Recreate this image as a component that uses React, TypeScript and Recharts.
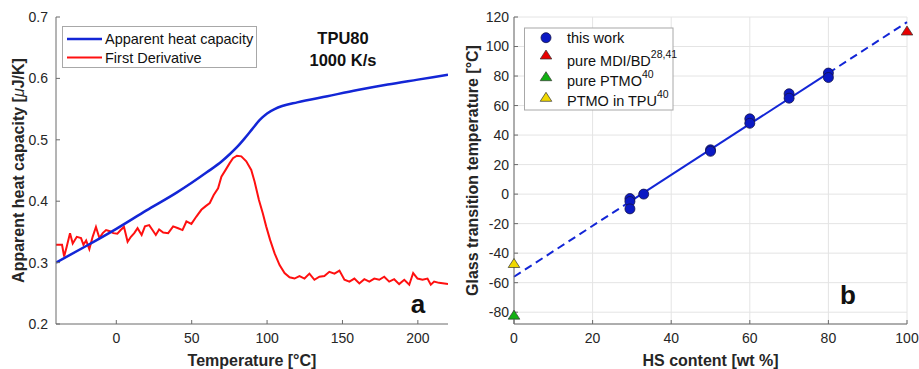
import React from 'react'
import {
  LineChart, Line, ComposedChart, Scatter, XAxis, YAxis, CartesianGrid, Label,
} from 'recharts'

// panel a: apparent heat capacity (smooth) and its first derivative (noisy)
const cpTemps = [-40, -20, 0, 20, 40, 50, 60, 70, 75, 80, 85, 90, 95, 100, 105, 110, 120, 140, 160, 180, 200, 220]
const cpValues = [0.300, 0.327, 0.355, 0.385, 0.414, 0.430, 0.447, 0.465, 0.476, 0.488, 0.502, 0.517, 0.532, 0.543, 0.550, 0.555, 0.561, 0.571, 0.581, 0.590, 0.598, 0.606]

const derivTemps = [
  -40, -36, -34.6, -32.9, -30.7, -28.9, -26.2, -23.4, -21.8, -20,
  -17.9, -15.7, -13.5, -11.2, -9, -6.8, -4.2, -2, 0.7, 2.9,
  5.1, 7.5, 9.7, 11.9, 14.1, 16.8, 19, 21.8, 24, 26.2,
  28.4, 31.1, 34.4, 37.7, 41, 43.9, 46.5, 49.8, 53.1, 56.4,
  59.3, 62, 64.6, 67.5, 69.7, 72.5, 75.2, 77.4, 80, 82.9,
  86.2, 89.5, 91.7, 94.6, 97.2, 99.4, 102, 105, 108.3, 111.6,
  114.9, 118.2, 121.5, 124.8, 128.1, 131.4, 134.7, 138, 141.3, 144.7,
  148, 151.3, 154.6, 157.9, 161.2, 164.5, 167.8, 171.1, 174.4, 177.7,
  181, 184.3, 187.6, 191, 194.3, 196.9, 199.8, 203.1, 206.4, 208.6,
  210.8, 214.1, 220,
]
const derivValues = [
  0.329, 0.329, 0.31, 0.326, 0.348, 0.331, 0.342, 0.34, 0.329, 0.336,
  0.322, 0.342, 0.358, 0.340, 0.348, 0.353, 0.351, 0.348, 0.347, 0.353,
  0.358, 0.334, 0.342, 0.348, 0.356, 0.345, 0.359, 0.361, 0.353, 0.345,
  0.354, 0.349, 0.348, 0.359, 0.356, 0.353, 0.367, 0.363, 0.375, 0.386,
  0.392, 0.397, 0.410, 0.421, 0.440, 0.451, 0.462, 0.470, 0.474, 0.473,
  0.465, 0.451, 0.432, 0.402, 0.380, 0.359, 0.337, 0.315, 0.296, 0.283,
  0.276, 0.274, 0.278, 0.274, 0.282, 0.272, 0.277, 0.278, 0.285, 0.282,
  0.287, 0.272, 0.269, 0.274, 0.266, 0.273, 0.269, 0.274, 0.272, 0.277,
  0.269, 0.273, 0.265, 0.272, 0.264, 0.283, 0.274, 0.272, 0.274, 0.264,
  0.269, 0.267, 0.265,
]
const tempTicks = [0, 50, 100, 150, 200]
const cpTicks = [0.2, 0.3, 0.4, 0.5, 0.6, 0.7]

// panel b: glass transition temperature vs hard segment content
const workX = [29.5, 29.5, 29.5, 33, 50, 50, 60, 60, 70, 70, 80, 80]
const workY = [-3, -5, -10, 0, 30, 29, 51, 48, 68, 65, 82, 79]
const mdiX = [100]
const mdiY = [110.5]
const ptmoX = [0]
const ptmoY = [-82]
const ptmoTpuX = [0]
const ptmoTpuY = [-47]
const fitSolidX = [29.5, 80]
const fitSolidY = [-5.1, 82]
const fitLowX = [0, 29.5]
const fitLowY = [-56, -5.1]
const fitHighX = [80, 100]
const fitHighY = [82, 116.5]
const hsTicks = [0, 20, 40, 60, 80, 100]
const tgTicks = [-80, -60, -40, -20, 0, 20, 40, 60, 80, 100, 120]

const pts = (xs: number[], ys: number[]) => xs.map((x, i) => ({ x, y: ys[i] }))

const font = '"Liberation Sans", Arial, sans-serif'
const axisColor = '#6b6b6b'
const tickStyle = { fill: '#262626', fontSize: 14, fontFamily: font }
const BLUE = '#1326d6'

const xTitle = (text: string) => (props: any) => {
  const { x, y, width } = props.viewBox
  return (
    <text x={x + width / 2} y={y + 36} textAnchor="middle" dominantBaseline="central"
      fontFamily={font} fontSize={16} fontWeight="bold" fill="#262626">{text}</text>
  )
}

const yTitle = (cx: number, content: React.ReactNode) => (props: any) => {
  const { y, height } = props.viewBox
  const cy = y + height / 2
  return (
    <text x={cx} y={cy} textAnchor="middle" dominantBaseline="central"
      transform={`rotate(-90, ${cx}, ${cy})`}
      fontFamily={font} fontSize={16} fontWeight="bold" fill="#262626">{content}</text>
  )
}

const triPoints = (cx: number, cy: number) =>
  `${cx},${cy - 5} ${cx + 5.8},${cy + 4} ${cx - 5.8},${cy + 4}`

const dotShape = (p: any) => (
  <circle cx={p.cx} cy={p.cy} r={5} fill="#0b19c4" stroke="#14144a" strokeWidth={0.8} />
)
const triShape = (color: string) => (p: any) => (
  <polygon points={triPoints(p.cx, p.cy)} fill={color} stroke="#333" strokeWidth={0.7} />
)

function PanelA() {
  return (
    <LineChart width={460} height={369} margin={{ top: 17, right: 12, bottom: 0, left: 0 }}>
      <XAxis xAxisId="b" type="number" dataKey="t" domain={[-40, 220]} ticks={tempTicks}
        height={45} tick={tickStyle} tickSize={-4} tickMargin={13} stroke={axisColor} allowDataOverflow>
        <Label content={xTitle('Temperature [°C]')} />
      </XAxis>
      <XAxis xAxisId="top" orientation="top" type="number" domain={[-40, 220]} ticks={tempTicks}
        height={0} tick={false} tickSize={-4} stroke={axisColor} allowDataOverflow />
      <YAxis yAxisId="l" type="number" domain={[0.2, 0.7]} ticks={cpTicks} width={56}
        tick={tickStyle} tickFormatter={(v: number) => v.toFixed(1)} tickSize={-4} tickMargin={12}
        stroke={axisColor} allowDataOverflow>
        <Label content={yTitle(18, <>Apparent heat capacity [<tspan fontStyle="italic" fontWeight="normal">μ</tspan>J/K]</>)} />
      </YAxis>
      <YAxis yAxisId="r" orientation="right" type="number" domain={[0.2, 0.7]} ticks={cpTicks}
        width={0} tick={false} tickSize={-4} stroke={axisColor} allowDataOverflow />
      <Line xAxisId="b" yAxisId="l" data={derivTemps.map((t, i) => ({ t, v: derivValues[i] }))}
        dataKey="v" type="linear" stroke="#ff1010" strokeWidth={2} dot={false} isAnimationActive={false} />
      <Line xAxisId="b" yAxisId="l" data={cpTemps.map((t, i) => ({ t, v: cpValues[i] }))}
        dataKey="v" type="monotone" stroke={BLUE} strokeWidth={2.5} dot={false} isAnimationActive={false} />
    </LineChart>
  )
}

function PanelB() {
  return (
    <ComposedChart width={459} height={369} margin={{ top: 17, right: 12, bottom: 0, left: 0 }}>
      <CartesianGrid stroke="#e4e4e4" />
      <XAxis type="number" dataKey="x" domain={[0, 100]} ticks={hsTicks} height={45}
        tick={tickStyle} tickSize={-4} tickMargin={13} stroke={axisColor}>
        <Label content={xTitle('HS content [wt %]')} />
      </XAxis>
      <YAxis type="number" dataKey="y" domain={[-88, 120]} ticks={tgTicks} width={54}
        tick={tickStyle} tickSize={-4} tickMargin={9} stroke={axisColor} allowDataOverflow>
        <Label content={yTitle(12, 'Glass transition temperature [°C]')} />
      </YAxis>
      <Line data={pts(fitLowX, fitLowY)} dataKey="y" stroke={BLUE} strokeWidth={2}
        strokeDasharray="8 5" dot={false} isAnimationActive={false} />
      <Line data={pts(fitHighX, fitHighY)} dataKey="y" stroke={BLUE} strokeWidth={2}
        strokeDasharray="8 5" dot={false} isAnimationActive={false} />
      <Line data={pts(fitSolidX, fitSolidY)} dataKey="y" stroke={BLUE} strokeWidth={2}
        dot={false} isAnimationActive={false} />
      <Scatter data={pts(workX, workY)} shape={dotShape} isAnimationActive={false} />
      <Scatter data={pts(mdiX, mdiY)} shape={triShape('#e80000')} isAnimationActive={false} />
      <Scatter data={pts(ptmoX, ptmoY)} shape={triShape('#12b012')} isAnimationActive={false} />
      <Scatter data={pts(ptmoTpuX, ptmoTpuY)} shape={triShape('#f0d800')} isAnimationActive={false} />
    </ComposedChart>
  )
}

function Overlay() {
  const txt = { fontFamily: font, fontSize: 14.5, fill: '#111' }
  return (
    <svg width={919} height={369} style={{ position: 'absolute', left: 0, top: 0, pointerEvents: 'none' }}>
      {/* legend a */}
      <rect x={62.5} y={26.5} width={194} height={41} fill="#fff" stroke="#a8a8a8" />
      <line x1={67} x2={102} y1={39} y2={39} stroke={BLUE} strokeWidth={2.5} />
      <text x={105} y={39} dominantBaseline="central" {...txt}>Apparent heat capacity</text>
      <line x1={67} x2={102} y1={57.5} y2={57.5} stroke="#ff1010" strokeWidth={2} />
      <text x={105} y={57.5} dominantBaseline="central" {...txt}>First Derivative</text>
      <text x={343} y={38} textAnchor="middle" dominantBaseline="central" fontFamily={font}
        fontSize={16.5} fontWeight="bold" fill="#111">TPU80</text>
      <text x={343} y={60} textAnchor="middle" dominantBaseline="central" fontFamily={font}
        fontSize={16.5} fontWeight="bold" fill="#111">1000 K/s</text>
      <text x={418} y={313} textAnchor="middle" fontFamily={font} fontSize={26} fontWeight="bold" fill="#111">a</text>

      {/* legend b */}
      <rect x={524.5} y={28} width={148.5} height={82} fill="#fff" stroke="#a8a8a8" />
      <circle cx={546} cy={37.7} r={5} fill="#0b19c4" stroke="#14144a" strokeWidth={0.8} />
      <text x={567} y={38.3} dominantBaseline="central" {...txt}>this work</text>
      <polygon points={triPoints(546, 55)} fill="#e80000" stroke="#333" strokeWidth={0.7} />
      <text x={567} y={61} dominantBaseline="central" {...txt}>pure MDI/BD<tspan fontSize={10.5} dy={-7}>28,41</tspan></text>
      <polygon points={triPoints(546, 76.7)} fill="#12b012" stroke="#333" strokeWidth={0.7} />
      <text x={567} y={80.7} dominantBaseline="central" {...txt}>pure PTMO<tspan fontSize={10.5} dy={-7}>40</tspan></text>
      <polygon points={triPoints(546, 97.3)} fill="#f0d800" stroke="#333" strokeWidth={0.7} />
      <text x={567} y={100.7} dominantBaseline="central" {...txt}>PTMO in TPU<tspan fontSize={10.5} dy={-7}>40</tspan></text>
      <text x={848} y={304} textAnchor="middle" fontFamily={font} fontSize={26} fontWeight="bold" fill="#111">b</text>
    </svg>
  )
}

export default function App() {
  return (
    <div style={{ position: 'absolute', left: 0, top: 0, width: 919, height: 369, background: '#fff', fontFamily: font }}>
      <div style={{ position: 'absolute', left: 0, top: 0 }}><PanelA /></div>
      <div style={{ position: 'absolute', left: 460, top: 0 }}><PanelB /></div>
      <Overlay />
    </div>
  )
}
